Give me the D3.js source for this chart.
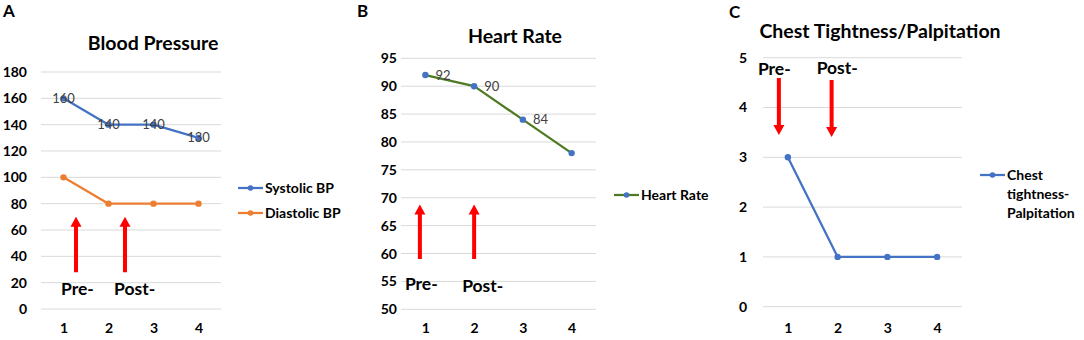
<!DOCTYPE html>
<html>
<head>
<meta charset="utf-8">
<script src="https://cdn.jsdelivr.net/npm/d3@7/dist/d3.min.js"></script>
<style>
  html, body { margin: 0; padding: 0; background: #fff; }
  svg { display: block; font-family: Lato, "Open Sans", sans-serif; }
</style>
</head>
<body>
<svg id="chart" width="1084" height="340"></svg>
<script>
// ---- data ----
const timepoints = ["1", "2", "3", "4"];
const systolicBP = [160, 140, 140, 130];
const diastolicBP = [100, 80, 80, 80];
const heartRate = [92, 90, 84, 78];
const chestTightness = [3, 1, 1, 1];
const bpTicks = [0, 20, 40, 60, 80, 100, 120, 140, 160, 180];
const hrTicks = [50, 55, 60, 65, 70, 75, 80, 85, 90, 95];
const ctTicks = [0, 1, 2, 3, 4, 5];
const panelLetters = ["A", "B", "C"];
const panelTitles = ["Blood Pressure", "Heart Rate", "Chest Tightness/Palpitation"];

const BLUE = "#4472C4", ORANGE = "#ED7D31", GREEN = "#4E7A23", RED = "#FF0000";
const FONT = "Lato, 'Open Sans', sans-serif";
const svg = d3.select("#chart");

function arrowPath(x, y1, y2) {
  const dir = y2 < y1 ? -1 : 1;
  const hl = 10, hw = 5.5, sw = 2;
  const yb = y2 - dir * hl;
  return `M${x - sw},${y1} L${x - sw},${yb} L${x - hw},${yb} L${x},${y2} L${x + hw},${yb} L${x + sw},${yb} L${x + sw},${y1} Z`;
}

function panel(opts) {
  const g = svg.append("g");
  const x = d3.scalePoint().domain(timepoints).range([opts.x0, opts.x1]).padding(0.5);
  const y = d3.scaleLinear().domain(opts.yDomain).range([opts.yBottom, opts.yTop]);

  g.append("text").attr("x", opts.letterX).attr("y", opts.letterY)
    .attr("font-size", 17).attr("font-weight", 700).attr("fill", "#000").text(opts.letter);
  g.append("text").attr("x", opts.titleX).attr("y", opts.titleY).attr("text-anchor", "middle")
    .attr("font-size", 19.5).attr("font-weight", 700).attr("fill", "#000").text(opts.title);

  g.selectAll(".grid").data(opts.ticks).enter().append("line")
    .attr("x1", opts.x0).attr("x2", opts.x1)
    .attr("y1", d => y(d)).attr("y2", d => y(d))
    .attr("stroke", "#d9d9d9").attr("stroke-width", 1);

  const yAxis = d3.axisLeft(y).tickValues(opts.ticks).tickFormat(d3.format("d")).tickSize(0).tickPadding(0);
  const ya = g.append("g").attr("transform", `translate(${opts.yLabelX},0)`).call(yAxis);
  ya.select(".domain").remove();
  ya.selectAll("text").attr("font-size", 14).attr("font-weight", 700).attr("fill", "#000")
    .attr("font-family", FONT)
    .attr("text-anchor", opts.yAnchor || "end");

  const xAxis = d3.axisBottom(x).tickSize(0).tickPadding(0);
  const xa = g.append("g").attr("transform", `translate(0,${opts.xLabelY})`).call(xAxis);
  xa.select(".domain").remove();
  xa.selectAll("text").attr("font-size", 14).attr("font-weight", 700).attr("fill", "#000")
    .attr("font-family", FONT).attr("dy", "0.35em");

  opts.series.forEach(s => {
    const line = d3.line().x((d, i) => x(timepoints[i])).y(d => y(d));
    g.append("path").datum(s.values).attr("d", line)
      .attr("fill", "none").attr("stroke", s.lineColor).attr("stroke-width", 2.25)
      .attr("stroke-linejoin", "round");
    g.selectAll(null).data(s.values).enter().append("circle")
      .attr("cx", (d, i) => x(timepoints[i])).attr("cy", d => y(d)).attr("r", 3.2)
      .attr("fill", s.markerColor);
    if (s.labels) {
      g.selectAll(null).data(s.values).enter()
        .filter((d, i) => s.labels[i])
        .append("text")
        .attr("x", (d, i) => x(timepoints[i]) + s.labelDx)
        .attr("y", d => y(d))
        .attr("dy", "0.35em")
        .attr("text-anchor", s.labelAnchor)
        .attr("font-size", 13).attr("fill", "#404040")
        .text(d => d);
    }
  });

  opts.legend.forEach((L, i) => {
    const ly = opts.legendY + i * opts.legendGap;
    g.append("line").attr("x1", opts.legendX).attr("x2", opts.legendX + 25)
      .attr("y1", ly).attr("y2", ly).attr("stroke", L.lineColor).attr("stroke-width", 2.25);
    g.append("circle").attr("cx", opts.legendX + 12.5).attr("cy", ly).attr("r", 2.8).attr("fill", L.markerColor);
    const t = g.append("text").attr("x", opts.legendX + 27).attr("y", ly)
      .attr("font-size", 14).attr("font-weight", 700).attr("fill", "#000");
    L.lines.forEach((ln, j) => {
      t.append("tspan").attr("x", opts.legendX + 27).attr("dy", j === 0 ? "0.35em" : "1.35em").text(ln);
    });
  });

  opts.arrows.forEach(a => {
    const ax = x(a.cat) + a.dx;
    g.append("path").attr("d", arrowPath(ax, y(a.from), y(a.to))).attr("fill", RED);
    g.append("text").attr("x", ax + a.tdx).attr("y", y(a.textAt)).attr("dy", "0.35em")
      .attr("font-size", 17.5).attr("font-weight", 700).attr("fill", "#000").text(a.text);
  });
}

panel({
  letter: panelLetters[0], letterX: 3, letterY: 17,
  title: panelTitles[0], titleX: 153, titleY: 50,
  x0: 41, x1: 221, yTop: 72, yBottom: 309, yDomain: [0, 180], ticks: bpTicks,
  yLabelX: 27, xLabelY: 328,
  series: [
    { values: systolicBP, lineColor: BLUE, markerColor: BLUE, labels: [true, true, true, true], labelDx: 0, labelAnchor: "middle" },
    { values: diastolicBP, lineColor: ORANGE, markerColor: ORANGE }
  ],
  legend: [
    { lineColor: BLUE, markerColor: BLUE, lines: ["Systolic BP"] },
    { lineColor: ORANGE, markerColor: ORANGE, lines: ["Diastolic BP"] }
  ],
  legendX: 238, legendY: 188, legendGap: 25,
  arrows: [
    { cat: "1", dx: 12.5, from: 28, to: 70, text: "Pre-", textAt: 15, tdx: -15 },
    { cat: "2", dx: 16.5, from: 28, to: 70, text: "Post-", textAt: 15, tdx: -11 }
  ]
});

panel({
  letter: panelLetters[1], letterX: 357, letterY: 17,
  title: panelTitles[1], titleX: 515, titleY: 43,
  x0: 401, x1: 596, yTop: 58.3, yBottom: 309.3, yDomain: [50, 95], ticks: hrTicks,
  yLabelX: 397, xLabelY: 328,
  series: [
    { values: heartRate, lineColor: GREEN, markerColor: BLUE, labels: [true, true, true, false], labelDx: 10, labelAnchor: "start" }
  ],
  legend: [
    { lineColor: GREEN, markerColor: BLUE, lines: ["Heart Rate"] }
  ],
  legendX: 614, legendY: 195, legendGap: 25,
  arrows: [
    { cat: "1", dx: -5.5, from: 59, to: 68.8, text: "Pre-", textAt: 54.5, tdx: -15 },
    { cat: "2", dx: 0, from: 59, to: 68.8, text: "Post-", textAt: 54.2, tdx: -12 }
  ]
});

panel({
  letter: panelLetters[2], letterX: 729, letterY: 18,
  title: panelTitles[2], titleX: 880, titleY: 38,
  x0: 763, x1: 962, yTop: 57.7, yBottom: 306.7, yDomain: [0, 5], ticks: ctTicks,
  yLabelX: 743, yAnchor: "middle", xLabelY: 328,
  series: [
    { values: chestTightness, lineColor: BLUE, markerColor: BLUE }
  ],
  legend: [
    { lineColor: BLUE, markerColor: BLUE, lines: ["Chest", "tightness-", "Palpitation"] }
  ],
  legendX: 980, legendY: 175, legendGap: 25,
  arrows: [
    { cat: "1", dx: -9, from: 4.59, to: 3.45, text: "Pre-", textAt: 4.78, tdx: -21 },
    { cat: "2", dx: -6, from: 4.55, to: 3.41, text: "Post-", textAt: 4.80, tdx: -15 }
  ]
});
</script>
</body>
</html>
